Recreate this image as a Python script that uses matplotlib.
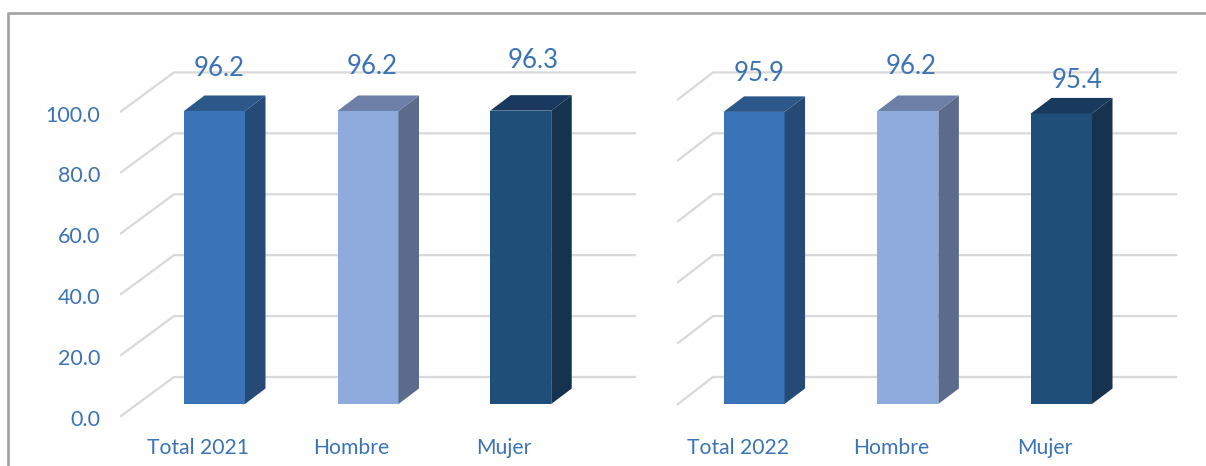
import matplotlib
matplotlib.use("Agg")
import matplotlib.pyplot as plt
from matplotlib.patches import Polygon

categories = ["Total 2021", "Hombre", "Mujer", "Total 2022", "Hombre", "Mujer"]
values = [96.2, 96.2, 96.3, 95.9, 96.2, 95.4]
ticks = [0, 20, 40, 60, 80, 100]

# layout
positions = [0, 1, 1.995, 3.515, 4.517, 5.518]
label_offset = [(5, 42), (4, 44), (12, 50), (5, 38), (3, 44), (16, 33)]  # px from bar top
front_col = ["#3a73b8", "#8faadc", "#1f4e79"] * 2
side_col = ["#244a75", "#5c6b8c", "#15324f"] * 2
top_col = ["#2b5789", "#6d7fa6", "#193a5e"] * 2
text_col = "#3b73b5"
grid_col = "#d9d9d9"

X_UNIT = 153.5  # px per category
Y_UNIT = 3.046  # px per value unit

fig = plt.figure(figsize=(12.06, 4.66), dpi=100)
ax = fig.add_axes([0, 0, 1, 1])
ax.set_xlim(-214.5 / X_UNIT, (1206 - 214.5) / X_UNIT)
ax.set_ylim((404 - 466) / Y_UNIT, 404 / Y_UNIT)
ax.axis("off")

def px_x(px):
    return (px - 214.5) / X_UNIT

bar_w = 61 / X_UNIT
dx = 20.5 / X_UNIT
dy = 15.5 / Y_UNIT
wall = 27 / Y_UNIT    # back wall above bar base
floor = -12 / Y_UNIT  # front edge of floor below bar base

# frame
ax.plot([px_x(8), px_x(8), px_x(1206)], [(404 - 466) / Y_UNIT, (404 - 13) / Y_UNIT, (404 - 13) / Y_UNIT],
        color="#a6a6a6", lw=2, clip_on=False, zorder=1)

# gridlines, two panels
for t in ticks:
    ax.plot([px_x(121), px_x(174), px_x(635)], [t + floor, t + wall, t + wall], color=grid_col, lw=1.6, zorder=1)
    ax.plot([px_x(678), px_x(713), px_x(1176)], [t + wall - 27 / Y_UNIT, t + wall, t + wall], color=grid_col, lw=1.6, zorder=1)
    ax.annotate("%.1f" % t, (px_x(100), t + floor), xytext=(0, -3), textcoords="offset points",
                color=text_col, fontsize=15.5, family="Lato", ha="right", va="center")

# bars
ax.bar(positions, values, width=bar_w, color=front_col, zorder=3)
for i, (x, v) in enumerate(zip(positions, values)):
    l = x - bar_w / 2
    r = x + bar_w / 2
    ax.add_patch(Polygon([(r, 0), (r + dx, dy), (r + dx, v + dy), (r, v)], color=side_col[i], lw=0, zorder=3))
    ax.add_patch(Polygon([(l, v), (l + dx, v + dy), (r + dx, v + dy), (r, v)], color=top_col[i], lw=0, zorder=3))
    ox, oy = label_offset[i]
    ax.annotate("%.1f" % v, (x, v), xytext=(ox * 0.72, oy * 0.72), textcoords="offset points",
                color=text_col, fontsize=18.5, family="Lato", ha="center", va="center", zorder=4)
    ax.annotate(categories[i], (x, 0), xytext=(-16.5 * 0.72, -44.5 * 0.72), textcoords="offset points",
                color=text_col, fontsize=15.2, family="Lato", ha="center", va="center", zorder=4)

fig.savefig("out.png", dpi=100)
